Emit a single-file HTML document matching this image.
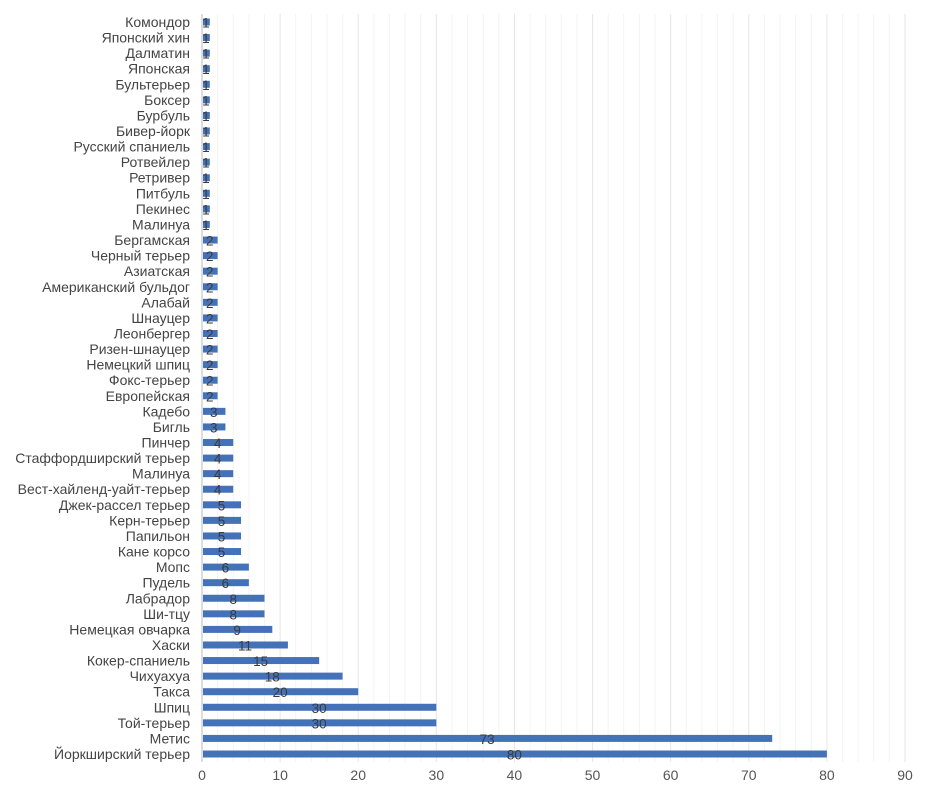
<!DOCTYPE html>
<html><head><meta charset="utf-8"><style>
body{margin:0;background:#fff;}
svg text{font-family:"Liberation Sans",sans-serif;}
</style></head><body>
<svg id="chart" width="928" height="792" xmlns="http://www.w3.org/2000/svg"></svg>
<script>
const categories=["Комондор","Японский хин","Далматин","Японская","Бультерьер","Боксер","Бурбуль","Бивер-йорк","Русский спаниель","Ротвейлер","Ретривер","Питбуль","Пекинес","Малинуа","Бергамская","Черный терьер","Азиатская","Американский бульдог","Алабай","Шнауцер","Леонбергер","Ризен-шнауцер","Немецкий шпиц","Фокс-терьер","Европейская","Кадебо","Бигль","Пинчер","Стаффордширский терьер","Малинуа","Вест-хайленд-уайт-терьер","Джек-рассел терьер","Керн-терьер","Папильон","Кане корсо","Мопс","Пудель","Лабрадор","Ши-тцу","Немецкая овчарка","Хаски","Кокер-спаниель","Чихуахуа","Такса","Шпиц","Той-терьер","Метис","Йоркширский терьер"];
const values=[1,1,1,1,1,1,1,1,1,1,1,1,1,1,2,2,2,2,2,2,2,2,2,2,2,3,3,4,4,4,4,5,5,5,5,6,6,8,8,9,11,15,18,20,30,30,73,80];
const xTicks=[0,10,20,30,40,50,60,70,80,90];
const NS="http://www.w3.org/2000/svg";
const svg=document.getElementById('chart');
const x0=202,x1=905,xMax=90,yTop=22,yBot=754;
const xs=v=>x0+(v/xMax)*(x1-x0);
const ys=i=>yTop+i*(yBot-yTop)/(categories.length-1);
function mk(t,a){const e=document.createElementNS(NS,t);for(const k in a)e.setAttribute(k,a[k]);svg.appendChild(e);return e;}
for(let v=0;v<=90;v+=2){
  const g=mk('line',{x1:xs(v),x2:xs(v),y1:14,y2:762,stroke:v%10===0?'#e6e6e6':'#f3f3f3','stroke-width':1});
  
  
}
const ax=mk('line',{x1:x0,x2:x0,y1:14,y2:762,stroke:'#bbb','stroke-width':1});


xTicks.forEach(t=>{
  const e=mk('text',{x:xs(t),y:780,'text-anchor':'middle','font-size':14,fill:'#555'});
  e.textContent=t;
  
  
});
categories.forEach((c,i)=>{
  const y=ys(i);
  const l=mk('text',{x:190,y:y+5,'text-anchor':'end','font-size':14,fill:'#444'});
  l.textContent=c;
  
  
  const b=mk('rect',{x:x0+1,y:y-3.5,width:xs(values[i])-x0-1,height:7,fill:'#4472b8'});
  
  
  const v=mk('text',{x:(x0+xs(values[i]))/2,y:y+5.5,'text-anchor':'middle','font-size':13.5,fill:'#3a3a3a'});
  v.textContent=values[i];
  
  
});
</script>
</body></html>
